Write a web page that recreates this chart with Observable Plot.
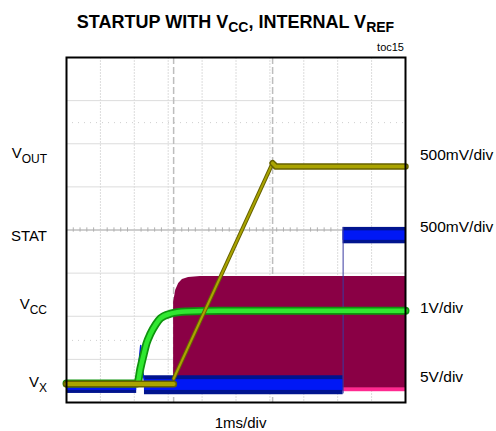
<!DOCTYPE html>
<html><head><meta charset="utf-8">
<script src="https://cdn.jsdelivr.net/npm/d3@7"></script>
<script src="https://cdn.jsdelivr.net/npm/@observablehq/plot@0.6"></script>
<style>
body{margin:0;background:#fff}
#chart svg{font-family:"Liberation Sans",Arial,Helvetica,sans-serif}
</style>
</head><body><div id="chart"></div>
<script>
// ---- grid (oscilloscope divisions) ----
const gridX = [0,1,2,3,4,5,6,7,8,9,10];
const gridY = [-4,-3,-2,-1,0,1,2,3,4];
const cursorX = [3.16, 6.08];
const refDotY = [2.49, -2.56];
const minorTicksX = [0.2,0.4,0.6,0.8,1.2,1.4,1.6,1.8,2.2,2.4,2.6,2.8,3.2,3.4,3.6,3.8,4.2,4.4,4.6,4.8,5.2,5.4,5.6,5.8,6.2,6.4,6.6,6.8,7.2,7.4,7.6,7.8,8.2,8.4,8.6,8.8,9.2,9.4,9.6,9.8];

// ---- labels ----
const chLabels = [["V","OUT"],["STAT",""],["V","CC"],["V","X"]];
const chLabelY = [1.77, -0.15, -1.73, -3.54];
const scaleLabels = ["500mV/div","500mV/div","1V/div","5V/div"];
const scaleLabelY = [1.73, 0.06, -1.82, -3.40];
const titleParts = [["STARTUP WITH V","CC"],[", INTERNAL V","REF"]];
const timeLabel = "1ms/div";
const tocLabel = "toc15";

// ---- VX (switch node, 5V/div) ----
const vxX   = [3.16, 3.16, 3.22, 3.31, 3.42, 3.6, 3.95, 10];
const vxTop = [-3.68, -1.68, -1.40, -1.24, -1.15, -1.10, -1.08, -1.08];
const vxBottom = -3.68;
const vxLowX = [3.16, 10];
const vxLowTop = -3.66, vxLowBot = -3.75;

// ---- STAT (500mV/div) ----
const statBandStart = [0, 2.30, 8.16];
const statBandEnd   = [2.07, 8.16, 10];
const statOuterTop  = [-3.51, -3.38, 0.06];
const statOuterBot  = [-3.79, -3.82, -0.32];
const statCoreTop   = [-3.58, -3.47, -0.02];
const statCoreBot   = [-3.72, -3.72, -0.24];
const statSpikeX = [2.05, 2.12, 2.19, 2.25, 2.30];
const statSpikeY = [-3.60, -3.20, -2.68, -3.30, -3.50];
const statStepX = 8.16, statStepLow = -3.80, statStepHigh = 0.06;

// ---- VCC (1V/div) ----
const vccX = [0, 2.09, 2.18, 2.27, 2.36, 2.48, 2.63, 2.77, 3.07, 3.51, 4.5, 10];
const vccY = [-3.56, -3.56, -3.21, -2.91, -2.63, -2.40, -2.19, -2.05, -1.94, -1.89, -1.87, -1.87];

// ---- VOUT (500mV/div) ----
const voutX = [0, 3.16, 3.16, 6.08, 6.18, 10];
const voutY = [-3.57, -3.57, -3.45, 1.55, 1.47, 1.47];

const pts = (xs, ys) => xs.map((x, i) => ({x, y: ys[i]}));
const vx = vxX.map((x, i) => ({x, top: vxTop[i], bot: vxBottom}));
const statBands = statBandStart.map((s, i) => ({x1: s, x2: statBandEnd[i], ot: statOuterTop[i], ob: statOuterBot[i], ct: statCoreTop[i], cb: statCoreBot[i]}));
const vcc = pts(vccX, vccY);
const vout = pts(voutX, voutY);
const voutLow = vout.slice(0, 2), voutRamp = vout.slice(2, 4), voutHigh = vout.slice(3);

const chart = Plot.plot({
  width: 496, height: 431,
  marginLeft: 66, marginRight: 91, marginTop: 57, marginBottom: 29,
  x: {domain: [0, 10], axis: null},
  y: {domain: [-4, 4], axis: null},
  style: {background: "#fff"},
  marks: [
    Plot.ruleY(gridY, {stroke: "#dcdcdc", strokeWidth: 1}),
    Plot.ruleX(gridX, {stroke: "#dcdcdc", strokeWidth: 1, strokeDasharray: "2,1"}),
    Plot.ruleY(refDotY, {stroke: "#cfcfcf", strokeDasharray: "1,5"}),
    Plot.ruleY([0], {stroke: "#b0b0b0"}),
    Plot.ruleX(minorTicksX, {x: d => d, y1: -0.05, y2: 0.05, stroke: "#b0b0b0"}),
    Plot.ruleX(cursorX, {stroke: "#bdbdbd", strokeWidth: 1.5, strokeDasharray: "7,3"}),
    // VX
    Plot.areaY(vx, {x: "x", y1: "bot", y2: "top", fill: "#8a0045"}),
    Plot.rect(vxLowX.slice(0,1), {x1: d => d, x2: vxLowX[1], y1: vxLowTop, y2: vxLowBot, fill: "#ff2a90"}),
    // STAT
    Plot.rect(statBands, {x1: "x1", x2: "x2", y1: "ob", y2: "ot", fill: "#00148f"}),
    Plot.rect(statBands, {x1: "x1", x2: "x2", y1: "cb", y2: "ct", fill: "#0018f5"}),
    Plot.line(pts(statSpikeX, statSpikeY), {x: "x", y: "y", stroke: "#0018e0", strokeWidth: 1.5}),
    Plot.ruleX([statStepX], {y1: statStepLow, y2: statStepHigh, stroke: "#3a3aa0", strokeWidth: 1}),
    // VCC
    Plot.line(vcc, {x: "x", y: "y", curve: "monotone-x", stroke: "#0e930e", strokeWidth: 8}),
    Plot.line(vcc, {x: "x", y: "y", curve: "monotone-x", stroke: "#30e830", strokeWidth: 4.5}),
    // VOUT
    Plot.line(voutLow, {x: "x", y: "y", stroke: "#676200", strokeWidth: 7}),
    Plot.line(voutLow, {x: "x", y: "y", stroke: "#aaa400", strokeWidth: 4}),
    Plot.line(voutRamp, {x: "x", y: "y", stroke: "#676200", strokeWidth: 4}),
    Plot.line(voutRamp, {x: "x", y: "y", stroke: "#aaa400", strokeWidth: 2}),
    Plot.line(voutHigh, {x: "x", y: "y", stroke: "#676200", strokeWidth: 6.5}),
    Plot.line(voutHigh, {x: "x", y: "y", stroke: "#aaa400", strokeWidth: 3.5}),
    Plot.frame({stroke: "#000", strokeWidth: 2})
  ]
});
document.getElementById("chart").appendChild(chart);

const sx = chart.scale("x"), sy = chart.scale("y");
const svg = d3.select(chart);
const fLeft = sx.apply(0), fRight = sx.apply(10), fTop = sy.apply(4), fBottom = sy.apply(-4);

function addText(x, y, size, anchor, weight) {
  return svg.append("text").attr("x", x).attr("y", y)
    .style("text-anchor", anchor).style("font-size", size + "px").style("font-weight", weight)
    .style("fill", "#000");
}
function subText(x, y, parts, size, subSize, anchor, weight, shift) {
  const t = addText(x, y, size, anchor, weight);
  let pending = 0;
  parts.forEach(([main, sub]) => {
    if (main) {
      const m = t.append("tspan").style("font-size", size + "px").text(main);
      if (pending) { m.attr("dy", -pending); pending = 0; }
    }
    if (sub) {
      t.append("tspan").style("font-size", subSize + "px").attr("dy", shift).text(sub);
      pending = shift;
    }
  });
  return t;
}

// title
subText((fLeft + fRight) / 2, fTop - 29, titleParts, 18, 14, "middle", "bold", 4);
// toc
addText(fRight - 1, fTop - 6, 11, "end", "normal").text(tocLabel);
// channel labels
chLabels.forEach((p, i) => subText(fLeft - 19, sy.apply(chLabelY[i]) + 5, [p], 15, 12, "end", "normal", 5));
// scale labels
scaleLabels.forEach((s, i) => addText(fRight + 15, sy.apply(scaleLabelY[i]) + 5.5, 15.5, "start", "normal").text(s));
// time label
addText(sx.apply(5.15), fBottom + 26, 15, "middle", "normal").text(timeLabel);
</script>
</body></html>
